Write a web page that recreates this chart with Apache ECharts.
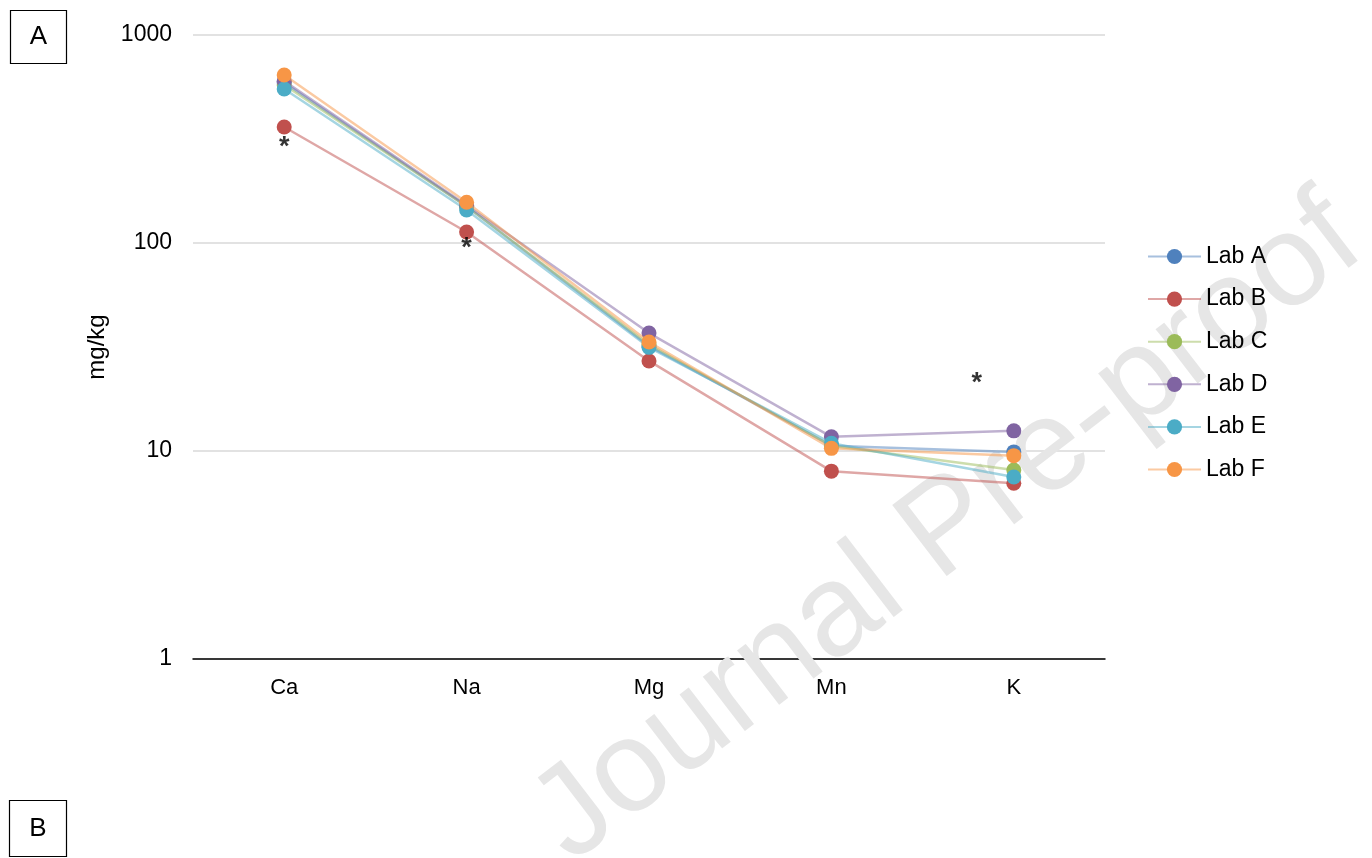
<!DOCTYPE html>
<html>
<head>
<meta charset="utf-8">
<script src="https://cdn.jsdelivr.net/npm/echarts@6/dist/echarts.min.js"></script>
<style>
html,body{margin:0;padding:0;background:#fff;}
#chart{width:1372px;height:858px;}
</style>
</head>
<body>
<div id="chart"></div>
<script>
const categories = ['Ca', 'Na', 'Mg', 'Mn', 'K'];
const labA = [590, 150, 32, 10.6, 9.9];
const labB = [361, 113, 27.1, 8.0, 7.0];
const labC = [575, 150, 32.5, 10.6, 8.1];
const labD = [600, 152, 36.9, 11.7, 12.5];
const labE = [550, 144, 31.5, 10.9, 7.5];
const labF = [642, 157, 33.4, 10.3, 9.5];
const seriesNames = ['Lab A', 'Lab B', 'Lab C', 'Lab D', 'Lab E', 'Lab F'];
const seriesColors = ['#4F81BD', '#C0504D', '#9BBB59', '#8064A2', '#4BACC6', '#F79646'];
const yTicks = [1, 10, 100, 1000];
// significance markers: [category, value]
const stars = [['Ca', 303], ['Na', 99], ['K', 22.4]];

const FONT = '"Liberation Sans", Arial, sans-serif';
const allData = [labA, labB, labC, labD, labE, labF];

const lineSeries = allData.map((d, i) => ({
  name: seriesNames[i],
  type: 'line',
  data: d,
  symbol: 'circle',
  symbolSize: 15,
  color: seriesColors[i],
  itemStyle: { color: seriesColors[i], opacity: 1 },
  lineStyle: { color: seriesColors[i], width: 2.5, opacity: 0.5 },
  z: 3 + i,
  animation: false
}));

const starSeries = {
  name: 'stars',
  type: 'scatter',
  data: stars.map((s) => ({
    value: s,
    label: { offset: [s[0] === 'K' ? -37 : 0, 5] }
  })),
  symbolSize: 0,
  label: {
    show: true,
    position: 'inside',
    formatter: '*',
    fontSize: 27,
    fontWeight: 'bold',
    color: '#000',
    fontFamily: FONT
  },
  silent: true,
  z: 10,
  animation: false
};

const chart = echarts.init(document.getElementById('chart'), null, { renderer: 'canvas' });
chart.setOption({
  backgroundColor: '#fff',
  animation: false,
  textStyle: { fontFamily: FONT },
  grid: { left: 193, right: 267, top: 35, bottom: 199, containLabel: false },
  legend: {
    data: seriesNames,
    orient: 'vertical',
    left: 1142,
    top: 240,
    itemWidth: 53,
    itemHeight: 19,
    itemGap: 19.6,
    textStyle: { fontSize: 23, color: '#000', fontFamily: FONT }
  },
  xAxis: {
    type: 'category',
    data: categories,
    boundaryGap: true,
    axisLine: { show: true, lineStyle: { color: '#000', width: 1.5 } },
    axisTick: { show: false },
    axisLabel: { fontSize: 22, color: '#000', margin: 18, fontFamily: FONT },
    splitLine: { show: false }
  },
  yAxis: {
    type: 'log',
    logBase: 10,
    min: yTicks[0],
    max: yTicks[yTicks.length - 1],
    name: 'mg/kg',
    nameLocation: 'middle',
    nameGap: 84,
    nameTextStyle: { fontSize: 24, color: '#000', fontFamily: FONT },
    axisLine: { show: false },
    axisTick: { show: false },
    axisLabel: { fontSize: 23, color: '#000', margin: 21, fontFamily: FONT, formatter: (v) => String(v) },
    splitLine: { show: true, lineStyle: { color: '#d9d9d9', width: 1.5 } }
  },
  graphic: [
    {
      type: 'text',
      x: 948, y: 530,
      rotation: 37.5 * Math.PI / 180,
      style: {
        text: 'Journal Pre-proof',
        fontSize: 130,
        fontFamily: FONT,
        fill: '#e6e6e6',
        align: 'center',
        verticalAlign: 'middle'
      },
      silent: true,
      z: 1
    },
    {
      type: 'rect',
      shape: { x: 10.5, y: 10.5, width: 56, height: 53 },
      style: { fill: '#fff', stroke: '#000', lineWidth: 1.2 },
      z: 20
    },
    {
      type: 'text',
      x: 38.5, y: 37,
      style: { text: 'A', fontSize: 26, fontFamily: FONT, fill: '#000', align: 'center', verticalAlign: 'middle' },
      z: 21
    },
    {
      type: 'rect',
      shape: { x: 9.5, y: 800.5, width: 57, height: 56 },
      style: { fill: '#fff', stroke: '#000', lineWidth: 1.2 },
      z: 20
    },
    {
      type: 'text',
      x: 38, y: 829,
      style: { text: 'B', fontSize: 26, fontFamily: FONT, fill: '#000', align: 'center', verticalAlign: 'middle' },
      z: 21
    }
  ],
  series: [...lineSeries, starSeries]
});
</script>
</body>
</html>
